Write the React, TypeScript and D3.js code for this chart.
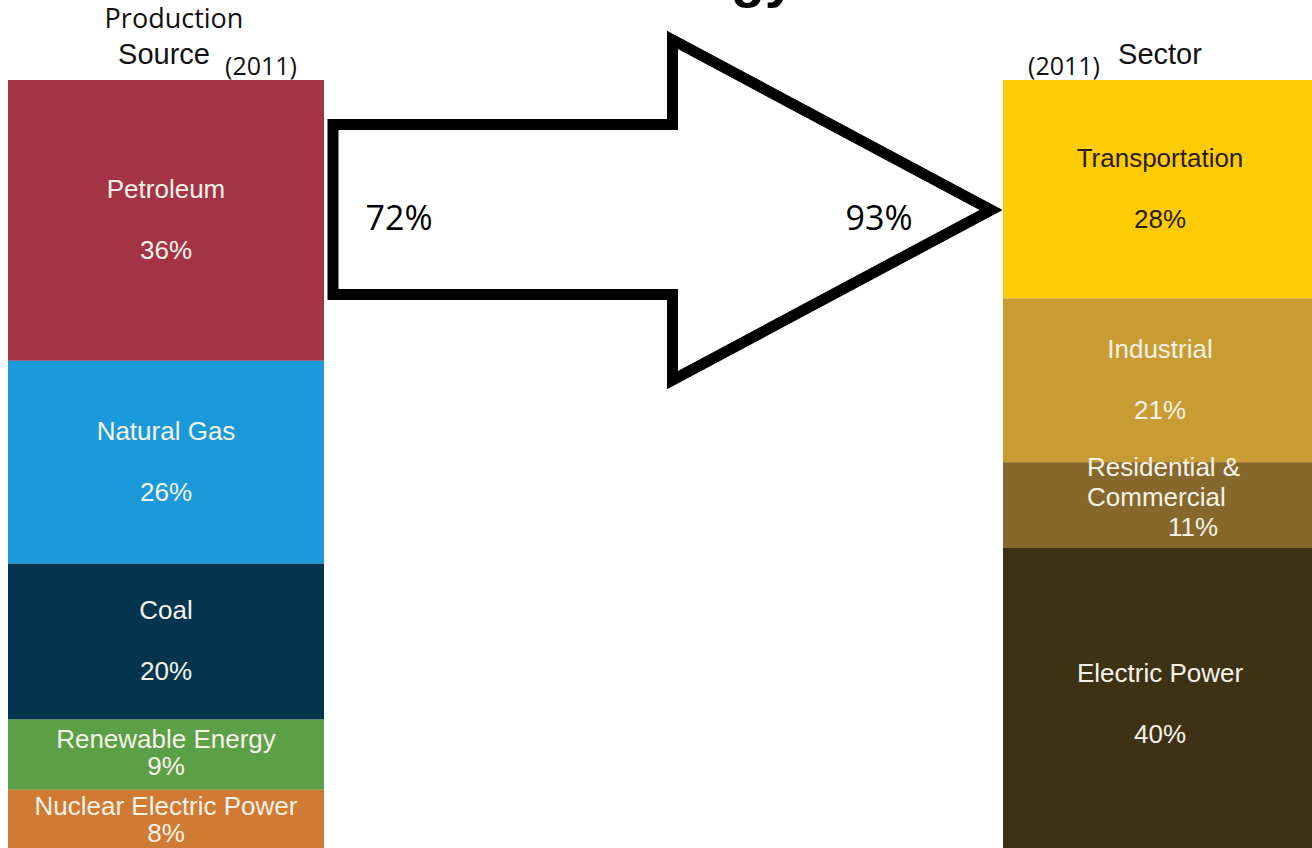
import React from "react";
import * as d3 from "d3";

// ---- Data ----
const sourceNames: string[][] = [["Petroleum"], ["Natural Gas"], ["Coal"], ["Renewable Energy"], ["Nuclear Electric Power"]];
const sourceValues: number[] = [36, 26, 20, 9, 8];
const sourceColors: string[] = ["#A43444", "#1B9ADB", "#04354F", "#5B9F47", "#D07A33"];

const sectorNames: string[][] = [["Transportation"], ["Industrial"], ["Residential &", "Commercial"], ["Electric Power"]];
const sectorValues: number[] = [28, 21, 11, 40];
const sectorColors: string[] = ["#FECC06", "#C99B33", "#86682D", "#3D3215"];
const sectorTextColors: string[] = ["#2B1D0E", "#F7F2E8", "#F7F2E8", "#F7F2E8"];

const arrowLeftLabel = "72%";
const arrowRightLabel = "93%";
const yearLabel = "(2011)";

const W = 1312;
const H = 848;
const barTop = 80;

const y = d3.scaleLinear().domain([0, 100]).range([barTop, barTop + 780]);

type Seg = { names: string[]; value: number; y0: number; y1: number; color: string; text: string };

function stack(names: string[][], values: number[], colors: string[], textColors?: string[]): Seg[] {
  let acc = 0;
  return values.map((v, i) => {
    const s = { names: names[i], value: v, y0: y(acc), y1: y(acc + v), color: colors[i], text: textColors ? textColors[i] : "#F7F2E8" };
    acc += v;
    return s;
  });
}

const labelFont = "'Liberation Sans', Arial, sans-serif";
const segoe = "'Open Sans', sans-serif";

function Column({ segs, x0, x1, cx }: { segs: Seg[]; x0: number; x1: number; cx: number }) {
  return (
    <g>
      {segs.map((s, i) => {
        const h = s.y1 - s.y0;
        const mid = (s.y0 + s.y1) / 2;
        const lines = [...s.names, `${s.value}%`];
        const multi = s.names.length > 1;
        const spacing = h > 120 ? 61 : multi ? 30 : 27;
        const center = multi ? mid - 8 : h > 120 ? mid - 1 : mid - 2;
        const startY = center - (spacing * (lines.length - 1)) / 2;
        return (
          <g key={i}>
            <rect x={x0} y={s.y0} width={x1 - x0} height={Math.max(0, h)} fill={s.color} />
            {lines.map((t, j) => {
              const isPct = j === lines.length - 1;
              const anchor = multi ? (isPct ? "middle" : "start") : "middle";
              const tx = multi ? (isPct ? cx + 33 : cx - 73) : cx;
              return (
                <text
                  key={j}
                  x={tx}
                  y={startY + j * spacing}
                  dy="0.35em"
                  textAnchor={anchor}
                  fill={s.text}
                  fontFamily={labelFont}
                  fontSize={26}
                >
                  {t}
                </text>
              );
            })}
          </g>
        );
      })}
    </g>
  );
}

export default function App() {
  const left = stack(sourceNames, sourceValues, sourceColors);
  const right = stack(sectorNames, sectorValues, sectorColors, sectorTextColors);

  const sx = 333, st = 124.5, sb = 294.5, hx = 672.5, ht = 40, hb = 380, tip = 991;
  const p = d3.path();
  p.moveTo(sx, st);
  p.lineTo(hx, st);
  p.lineTo(hx, ht);
  p.lineTo(tip, (st + sb) / 2 + 0.5);
  p.lineTo(hx, hb);
  p.lineTo(hx, sb);
  p.lineTo(sx, sb);
  p.closePath();

  return (
    <svg width={W} height={H} style={{ position: "absolute", left: 0, top: 0, background: "#fff" }}>
      <rect x={0} y={0} width={W} height={H} fill="#fff" />
      <text x={796} y={-4} textAnchor="end" fontFamily={labelFont} fontWeight="bold" fontSize={56} fill="#000">
        Energy
      </text>

      {/* headers */}
      <text x={174} y={28} textAnchor="middle" fontFamily={segoe} fontSize={27} fill="#111">
        Production
      </text>
      <text x={164} y={64} textAnchor="middle" fontFamily={labelFont} fontSize={29} fill="#111">
        Source
      </text>
      <text x={261} y={75} textAnchor="middle" fontFamily={segoe} fontSize={25} fill="#111">
        {yearLabel}
      </text>
      <text x={1064} y={75} textAnchor="middle" fontFamily={segoe} fontSize={25} fill="#111">
        {yearLabel}
      </text>
      <text x={1160} y={64} textAnchor="middle" fontFamily={labelFont} fontSize={29} fill="#111">
        Sector
      </text>

      <Column segs={left} x0={8} x1={324} cx={166} />
      <Column segs={right} x0={1003} x1={1320} cx={1160} />

      <path d={p.toString()} fill="#fff" stroke="#000" strokeWidth={11} strokeLinejoin="miter" strokeMiterlimit={10} />
      <text x={399} y={230} textAnchor="middle" fontFamily={segoe} fontSize={34} fill="#000">
        {arrowLeftLabel}
      </text>
      <text x={879} y={230} textAnchor="middle" fontFamily={segoe} fontSize={34} fill="#000">
        {arrowRightLabel}
      </text>
    </svg>
  );
}
